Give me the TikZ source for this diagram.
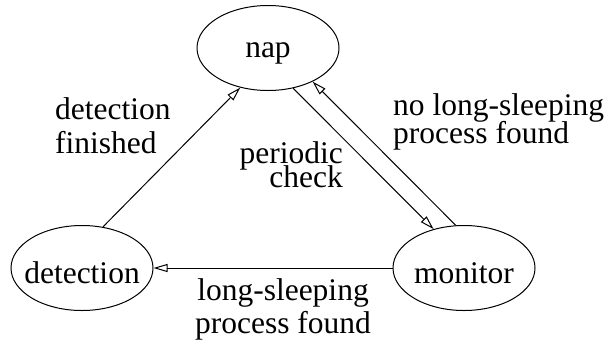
\documentclass[tikz,border=0pt]{standalone}
\usepackage{fontspec}
\setmainfont{Liberation Serif}
\usetikzlibrary{shapes.geometric,arrows.meta}

% label font with a fixed line pitch
\newcommand\lblfont[1]{\fontsize{31.5pt}{#1pt}\selectfont\lineskiplimit=-100pt\relax}

\begin{document}
\begin{tikzpicture}[x=1pt,y=-1pt,
  state/.style={ellipse,draw,line width=1pt,minimum width=142pt,minimum height=85pt,inner sep=0pt,
    label={[anchor=base,yshift=-5pt,font=\fontsize{31.5pt}{32pt}\selectfont]center:#1}},
  trans/.style={line width=1pt,-{Triangle[open,length=14pt,width=8pt,line width=1pt]}},
  lbl/.style={inner sep=0pt,font=\lblfont{#1}}
]
\useasboundingbox (0,0) rectangle (610,341);

% states
\node[state=nap] (nap) at (268,48) {};
\node[state=detection] (det) at (82,268) {};
\node[state=monitor] (mon) at (464,268) {};

% transitions
\draw[trans] (det.63.7) -- (nap.235);
\draw[trans] (nap.302) -- (mon.128);
\draw[trans] (mon.101) -- (nap.323);
\draw[trans] (mon.west) -- (det.east);

% transition labels (anchored at the baseline of the last line)
\node[lbl=34, align=left, anchor=base west] (lfin) at (55,153) {detection\\finished};
\node[lbl=24, align=right, anchor=base east] (lper) at (343,187) {periodic\\check};
\node[lbl=28, align=left, anchor=base west] (lnone) at (393,143) {no long-sleeping\\process found};
\node[lbl=33, align=center, anchor=base] (lfound) at (283,333) {long-sleeping\\process found};
\end{tikzpicture}
\end{document}
